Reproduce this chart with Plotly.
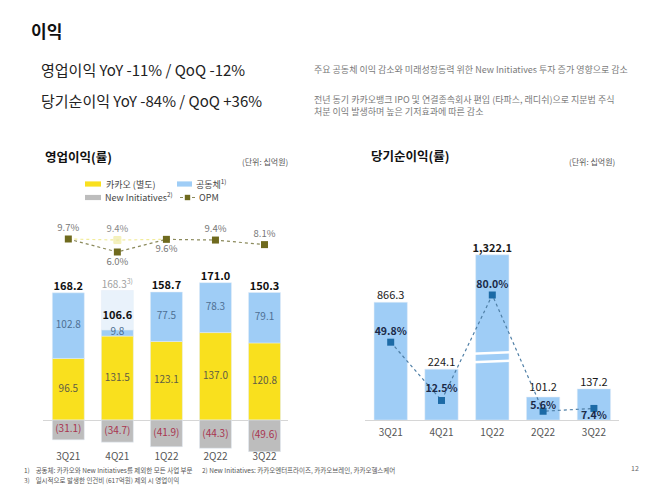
import plotly.graph_objects as go

# ---------------- data ----------------
quarters = ["3Q21", "4Q21", "1Q22", "2Q22", "3Q22"]
kakao_standalone = [96.5, 131.5, 123.1, 137.0, 120.8]
affiliates = [102.8, 9.8, 77.5, 78.3, 79.1]
new_initiatives = [-31.1, -34.7, -41.9, -44.3, -49.6]
op_profit = [168.2, 106.6, 158.7, 171.0, 150.3]
one_off_cost = [None, 61.7, None, None, None]
op_profit_adj = [None, 168.3, None, None, None]
opm = [9.7, 6.0, 9.6, 9.4, 8.1]
opm_adj_quarters = ["3Q21", "4Q21", "1Q22"]
opm_adj = [9.7, 9.4, 9.6]

net_income = [866.3, 224.1, 1322.1, 101.2, 137.2]
net_margin = [49.8, 12.5, 80.0, 5.6, 7.4]

# ---------------- helpers ----------------
W, H = 658, 488
FONT = "Noto Sans CJK KR, Noto Sans, sans-serif"


def px(x):
    return x / W


def py(y):
    return 1 - y / H


YELLOW = "#f9e01e"
BLUE = "#9fcdf6"
GRAY = "#bdbdbd"
GHOST = "#e9f2fb"


def ghost_marker(sizes):
    return dict(size=sizes, color="rgba(0,0,0,0)", opacity=0, line=dict(width=0))


fig = go.Figure()

# ---------------- left chart: operating profit ----------------
bw_l = 0.652
fig.add_trace(go.Bar(x=quarters, y=kakao_standalone, marker_color=YELLOW, width=bw_l,
                     xaxis="x", yaxis="y", hoverinfo="skip"))
fig.add_trace(go.Bar(x=quarters, y=affiliates, marker_color=BLUE, width=bw_l,
                     xaxis="x", yaxis="y", hoverinfo="skip"))
fig.add_trace(go.Bar(x=quarters, y=one_off_cost, marker_color=GHOST, width=bw_l,
                     xaxis="x", yaxis="y", hoverinfo="skip"))
fig.add_trace(go.Bar(x=quarters, y=new_initiatives, marker_color=GRAY, width=bw_l,
                     xaxis="x", yaxis="y", hoverinfo="skip"))

# segment labels
fig.add_trace(go.Scatter(x=quarters, y=[k / 2 for k in kakao_standalone], mode="text",
                         text=[f"{k:.1f}" for k in kakao_standalone],
                         textfont=dict(size=10, color="#5f5d45", family=FONT),
                         xaxis="x", yaxis="y", hoverinfo="skip", cliponaxis=False))
fig.add_trace(go.Scatter(x=quarters, y=[k + a / 2 for k, a in zip(kakao_standalone, affiliates)],
                         mode="text", text=[f"{a:.1f}" for a in affiliates],
                         textfont=dict(size=10, color="#4e7094", family=FONT),
                         xaxis="x", yaxis="y", hoverinfo="skip", cliponaxis=False))
fig.add_trace(go.Scatter(x=quarters, y=[n / 2 for n in new_initiatives], mode="text",
                         text=[f"({abs(n):.1f})" for n in new_initiatives],
                         textfont=dict(size=10, color="#a8344f", family=FONT),
                         xaxis="x", yaxis="y", hoverinfo="skip", cliponaxis=False))
# totals: invisible marker for the 4Q21 point pushes its label a little higher
fig.add_trace(go.Scatter(x=quarters, y=[k + a for k, a in zip(kakao_standalone, affiliates)],
                         mode="markers+text", textposition="top center",
                         marker=ghost_marker([0 if o is None else 11 for o in one_off_cost]),
                         text=[f"<b>{t:.1f}</b>" for t in op_profit],
                         textfont=dict(size=11, color="#111111", family=FONT),
                         xaxis="x", yaxis="y", hoverinfo="skip", cliponaxis=False))
ghost_tops = [None if o is None else k + a + o for k, a, o in zip(kakao_standalone, affiliates, one_off_cost)]
fig.add_trace(go.Scatter(x=quarters, y=ghost_tops, mode="text", textposition="top center",
                         text=["" if v is None else f"{v:.1f}<sup>3)</sup>" for v in op_profit_adj],
                         textfont=dict(size=10, color="#a0a0a0", family=FONT),
                         xaxis="x", yaxis="y", hoverinfo="skip", cliponaxis=False))

# OPM lines
fig.add_trace(go.Scatter(x=opm_adj_quarters, y=opm_adj, mode="lines+markers",
                         line=dict(color="#f1ec9a", width=1.2, dash="dot"),
                         marker=dict(symbol="square", size=[0, 7, 0], color="#eeeaa6"),
                         xaxis="x", yaxis="y2", hoverinfo="skip", cliponaxis=False))
fig.add_trace(go.Scatter(x=opm_adj_quarters[1:2], y=opm_adj[1:2], mode="markers+text",
                         marker=ghost_marker(7),
                         text=[f"{opm_adj[1]:.1f}%"], textposition="top center",
                         textfont=dict(size=9.5, color="#8a8a8a", family=FONT),
                         xaxis="x", yaxis="y2", hoverinfo="skip", cliponaxis=False))
fig.add_trace(go.Scatter(x=quarters, y=opm, mode="lines+markers+text",
                         line=dict(color="#8b8a5c", width=1.2, dash="dot"),
                         marker=dict(symbol="square", size=7, color="#6f6a1e"),
                         text=[f"{v:.1f}%" for v in opm],
                         textposition=["top center", "bottom center", "bottom center", "top center", "top center"],
                         textfont=dict(size=9.5, color="#777777", family=FONT),
                         xaxis="x", yaxis="y2", hoverinfo="skip", cliponaxis=False))

# ---------------- right chart: net income ----------------
bw_r = 0.656
break_value = 225
fig.add_trace(go.Bar(x=quarters, y=net_income, marker_color=BLUE, width=bw_r,
                     xaxis="x2", yaxis="y3", hoverinfo="skip"))
fig.add_trace(go.Bar(x=quarters, y=net_income, marker_color=BLUE, width=bw_r,
                     xaxis="x2", yaxis="y4", hoverinfo="skip"))
lower_vals = [v if v < break_value else None for v in net_income]
upper_vals = [v if v >= break_value else None for v in net_income]
fig.add_trace(go.Scatter(x=quarters, y=lower_vals, mode="markers+text", textposition="top center",
                         marker=ghost_marker([0, 0, 0, 4, 0]),
                         text=[f"{v:,.1f}" for v in net_income],
                         textfont=dict(size=11, color="#1a1a1a", family=FONT),
                         xaxis="x2", yaxis="y3", hoverinfo="skip", cliponaxis=False))
fig.add_trace(go.Scatter(x=quarters, y=upper_vals, mode="text", textposition="top center",
                         text=[f"<b>{v:,.1f}</b>" if v > 1000 else f"{v:,.1f}" for v in net_income],
                         textfont=dict(size=11, color="#1a1a1a", family=FONT),
                         xaxis="x2", yaxis="y4", hoverinfo="skip", cliponaxis=False))
fig.add_trace(go.Scatter(x=quarters, y=net_margin, mode="lines+markers",
                         line=dict(color="#4f7fa6", width=1.2, dash="dot"),
                         marker=dict(symbol="square", size=7, color="#1c6aa6"),
                         xaxis="x2", yaxis="y5", hoverinfo="skip", cliponaxis=False))
fig.add_trace(go.Scatter(x=quarters, y=net_margin, mode="markers+text",
                         marker=ghost_marker([6, 7, 5, 0, 2]),
                         text=[f"<b>{v:.1f}%</b>" for v in net_margin],
                         textposition=["top center", "top center", "top center", "top center", "bottom center"],
                         textfont=dict(size=10.5, color="#1b2a48", family=FONT),
                         xaxis="x2", yaxis="y5", hoverinfo="skip", cliponaxis=False))

# ---------------- axes ----------------
left_top, left_bottom = 215, 452
zero_l = 420
scale_l = 0.638  # px per unit
y_range_l = [-(left_bottom - zero_l) / scale_l, (zero_l - left_top) / scale_l]
opm_ref_px, opm_ref_val, opm_scale = 239, 9.7, 3.514
y2_range = [opm_ref_val - (left_bottom - opm_ref_px) / opm_scale,
            opm_ref_val + (opm_ref_px - left_top) / opm_scale]

right_zero, right_break, right_top = 420, 369, 246.7
tickfont = dict(size=10, color="#555555", family=FONT)

fig.update_layout(
    width=W, height=H, margin=dict(l=0, r=0, t=0, b=0),
    paper_bgcolor="white", plot_bgcolor="rgba(0,0,0,0)",
    showlegend=False, barmode="relative", hovermode=False,
    xaxis=dict(domain=[px(43.3), px(288.3)], range=[-0.51, 4.485], anchor="free",
               position=py(448.5), showgrid=False, showline=False, zeroline=False,
               ticks="", tickfont=tickfont, fixedrange=True),
    yaxis=dict(domain=[py(left_bottom), py(left_top)], range=y_range_l, showgrid=False,
               showline=False, showticklabels=False, zeroline=True,
               zerolinecolor="#d6d6d6", zerolinewidth=1, fixedrange=True),
    yaxis2=dict(overlaying="y", range=y2_range, visible=False, fixedrange=True),
    xaxis2=dict(domain=[px(365.3), px(619.3)], range=[-0.5, 4.5], anchor="y3",
                showgrid=False, showline=True, linecolor="#d6d6d6", linewidth=1,
                zeroline=False, ticks="outside", ticklen=3, tickcolor="rgba(0,0,0,0)",
                tickfont=tickfont, fixedrange=True),
    yaxis3=dict(domain=[py(right_zero), py(right_break)], range=[0, break_value],
                anchor="x2", visible=False, fixedrange=True),
    yaxis4=dict(domain=[py(right_break), py(right_top)], range=[break_value, 1400],
                anchor="x2", visible=False, fixedrange=True),
    yaxis5=dict(domain=[py(right_zero), py(right_top)],
                range=[0, (right_zero - right_top) / 1.5625],
                anchor="x2", visible=False, fixedrange=True),
)

# ---------------- break marks on 1Q22 ----------------
for yb in (353, 361.5):
    fig.add_shape(type="line", xref="x2", yref="paper", x0=1.6, x1=2.4,
                  y0=py(yb + 0.8), y1=py(yb - 0.8), line=dict(color="white", width=2.6))

# ---------------- legend (left chart) ----------------
def swatch(x0, x1, yc, color):
    fig.add_shape(type="rect", xref="paper", yref="paper", x0=px(x0), x1=px(x1),
                  y0=py(yc + 2.6), y1=py(yc - 2.6), fillcolor=color, line=dict(width=0))


def ann(text, x, y, size, color="#333333", xanchor="left", bold=False):
    fig.add_annotation(text=f"<b>{text}</b>" if bold else text, xref="paper", yref="paper",
                       x=px(x), y=py(y), xanchor=xanchor, yanchor="middle", showarrow=False,
                       font=dict(size=size, color=color, family=FONT))


swatch(85, 101, 184, YELLOW)
swatch(177, 192, 184, BLUE)
swatch(85, 101, 197.5, GRAY)
fig.add_shape(type="line", xref="paper", yref="paper", x0=px(180), x1=px(195),
              y0=py(197.5), y1=py(197.5), line=dict(color="#8b8a5c", width=1.2, dash="dot"))
fig.add_shape(type="rect", xref="paper", yref="paper", x0=px(184.8), x1=px(190.2),
              y0=py(200.2), y1=py(194.8), fillcolor="#6f6a1e", line=dict(width=0))
ann("카카오 (별도)", 104, 184, 9, "#444444")
ann("공동체<sup>1)</sup>", 194, 184, 9, "#444444")
ann("New Initiatives<sup>2)</sup>", 103, 197.5, 9, "#444444")
ann("OPM", 197, 197.5, 9, "#444444")

# ---------------- headings & text ----------------
ann("이익", 29, 31, 17, "#111111", bold=True)
ann("영업이익 YoY -11% / QoQ -12%", 39, 69, 15, "#222222")
ann("당기순이익 YoY -84% / QoQ +36%", 39, 100, 15, "#222222")
ann("주요 공동체 이익 감소와 미래성장동력 위한 New Initiatives 투자 증가 영향으로 감소",
    312, 69, 9, "#7a7a7a")
ann("전년 동기 카카오뱅크 IPO 및 연결종속회사 편입 (타파스, 래디쉬)으로 지분법 주식",
    312, 99, 9, "#7a7a7a")
ann("처분 이익 발생하며 높은 기저효과에 따른 감소", 312, 111, 9, "#7a7a7a")

ann("영업이익(률)", 43, 156, 12.5, "#111111", bold=True)
ann("(단위: 십억원)", 290, 161, 8, "#555555", xanchor="right")
ann("당기순이익(률)", 369, 155, 12.5, "#111111", bold=True)
ann("(단위: 십억원)", 617, 161, 8, "#555555", xanchor="right")

ann("1)&nbsp;&nbsp;&nbsp;&nbsp;공동체: 카카오와 New Initiatives를 제외한 모든 사업 부문", 22, 470, 6.5, "#555555")
ann("2) New Initiatives: 카카오엔터프라이즈, 카카오브레인, 카카오헬스케어", 200, 470, 6.5, "#555555")
ann("3)&nbsp;&nbsp;&nbsp;&nbsp;일시적으로 발생한 인건비 (617억원) 제외 시 영업이익", 22, 480, 6.5, "#555555")
ann("12", 641, 468, 7, "#666666", xanchor="right")

fig.write_html("out.html", post_script="document.body.style.margin='0px';",
               config={"displayModeBar": False, "staticPlot": True})
